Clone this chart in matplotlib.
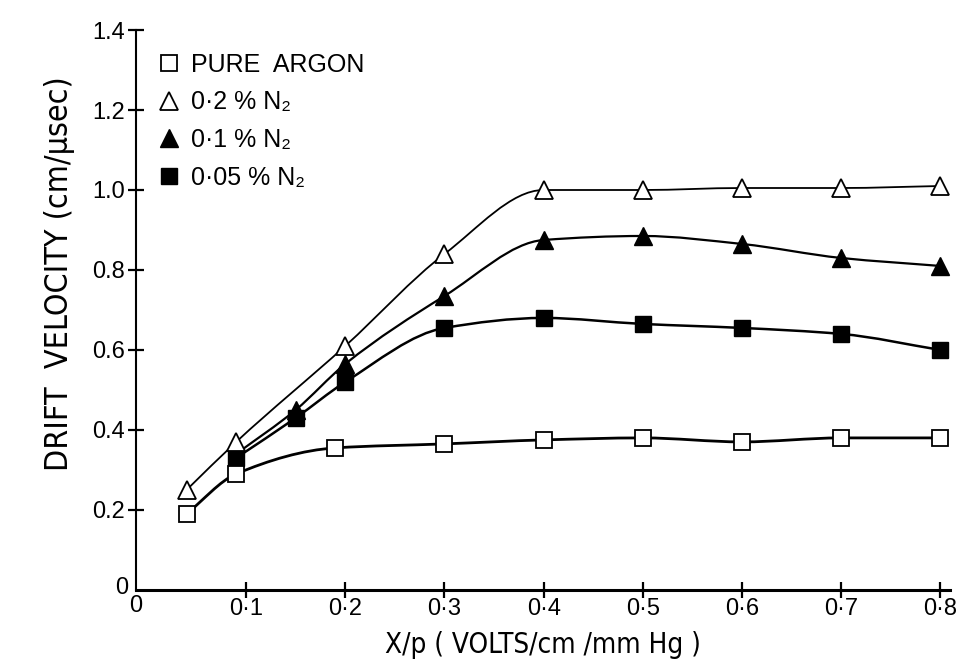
import numpy as np
import matplotlib
matplotlib.use("Agg")
import matplotlib.pyplot as plt
from matplotlib.path import Path
from matplotlib.patches import PathPatch

# ---- data ----
argon_x = [0.04, 0.09, 0.19, 0.30, 0.40, 0.50, 0.60, 0.70, 0.80]
argon_y = [0.19, 0.29, 0.355, 0.365, 0.375, 0.38, 0.37, 0.38, 0.38]

n2_02_x = [0.04, 0.09, 0.20, 0.30, 0.40, 0.50, 0.60, 0.70, 0.80]
n2_02_y = [0.25, 0.37, 0.61, 0.84, 1.00, 1.00, 1.005, 1.005, 1.01]

n2_01_x = [0.15, 0.20, 0.30, 0.40, 0.50, 0.60, 0.70, 0.80]
n2_01_y = [0.45, 0.565, 0.735, 0.875, 0.885, 0.865, 0.83, 0.81]
n2_01_line_start = (0.09, 0.34)

n2_005_x = [0.09, 0.15, 0.20, 0.30, 0.40, 0.50, 0.60, 0.70, 0.80]
n2_005_y = [0.33, 0.43, 0.52, 0.655, 0.68, 0.665, 0.655, 0.64, 0.60]

x_ticks = [0.1, 0.2, 0.3, 0.4, 0.5, 0.6, 0.7, 0.8]
x_ticklabels = ["0·1", "0·2", "0·3", "0·4", "0·5", "0·6", "0·7", "0·8"]
y_ticks = [0.2, 0.4, 0.6, 0.8, 1.0, 1.2, 1.4]
y_ticklabels = ["0.2", "0.4", "0.6", "0.8", "1.0", "1.2", "1.4"]

labels = ["PURE  ARGON", "0·2 % N₂", "0·1 % N₂", "0·05 % N₂"]

FAM = ["Liberation Sans", "DejaVu Sans"]
NARROW = ["DejaVu Sans", "Liberation Sans"]


def smooth_patch(xs, ys, lw):
    """Monotone cubic (Fritsch-Carlson) Bezier path through the data points."""
    x = np.asarray(xs, float)
    y = np.asarray(ys, float)
    n = len(x)
    h = np.diff(x)
    d = np.diff(y) / h
    m = np.zeros(n)
    m[0] = d[0]
    m[-1] = d[-1]
    for i in range(1, n - 1):
        if d[i - 1] * d[i] <= 0:
            m[i] = 0.0
        else:
            w1 = 2 * h[i] + h[i - 1]
            w2 = h[i] + 2 * h[i - 1]
            m[i] = (w1 + w2) / (w1 / d[i - 1] + w2 / d[i])
    verts = [(x[0], y[0])]
    codes = [Path.MOVETO]
    for i in range(n - 1):
        c1 = (x[i] + h[i] / 3, y[i] + m[i] * h[i] / 3)
        c2 = (x[i + 1] - h[i] / 3, y[i + 1] - m[i + 1] * h[i] / 3)
        verts += [c1, c2, (x[i + 1], y[i + 1])]
        codes += [Path.CURVE4] * 3
    return PathPatch(Path(verts, codes), fill=False, lw=lw, color="black",
                     capstyle="round", joinstyle="round", zorder=2)


fig = plt.figure(figsize=(9.58, 6.68), dpi=100)
ax = fig.add_axes([0.142, 0.117, 0.85, 0.838])
ax.set_xlim(-0.011, 0.81)
ax.set_ylim(0, 1.4)

ax.add_patch(smooth_patch(argon_x, argon_y, 2.0))
ax.add_patch(smooth_patch(n2_02_x, n2_02_y, 1.3))
ax.add_patch(smooth_patch([n2_01_line_start[0]] + n2_01_x,
                          [n2_01_line_start[1]] + n2_01_y, 1.6))
ax.add_patch(smooth_patch(n2_005_x, n2_005_y, 1.8))

ms_sq = 12
ms_tri = 13
h1, = ax.plot(argon_x, argon_y, ls="none", marker="s", ms=ms_sq,
              mfc="white", mec="black", mew=1.3, zorder=4)
h2, = ax.plot(n2_02_x, n2_02_y, ls="none", marker="^", ms=ms_tri,
              mfc="white", mec="black", mew=1.3, zorder=4)
h3, = ax.plot(n2_01_x, n2_01_y, ls="none", marker="^", ms=ms_tri,
              mfc="black", mec="black", mew=1.0, zorder=4)
h4, = ax.plot(n2_005_x, n2_005_y, ls="none", marker="s", ms=ms_sq,
              mfc="black", mec="black", mew=1.0, zorder=3)

for s in ["top", "right"]:
    ax.spines[s].set_visible(False)
ax.spines["left"].set_linewidth(1.5)
ax.spines["bottom"].set_linewidth(2.2)

ax.set_xticks(x_ticks)
ax.set_xticklabels(x_ticklabels, fontfamily=FAM, fontsize=17)
ax.set_yticks(y_ticks)
ax.set_yticklabels(y_ticklabels, fontfamily=FAM, fontsize=17)
ax.tick_params(axis="both", direction="inout", length=12, width=1.6,
               colors="black", pad=2)
ax.tick_params(axis="x", pad=0)

# origin labels
ax.text(-0.011, -0.012, "0", transform=ax.transData, ha="center", va="top",
        fontsize=17, fontfamily=FAM)
ax.text(-0.019, 0.005, "0", transform=ax.transData, ha="right", va="center",
        fontsize=17, fontfamily=FAM)

ax.set_xlabel("X/p ( VOLTS/cm /mm Hg )", fontfamily=NARROW, fontsize=20,
              fontstretch="condensed", labelpad=8)
ax.set_ylabel("DRIFT  VELOCITY (cm/μsec)", fontfamily=NARROW, fontsize=23,
              fontstretch="condensed")
ax.yaxis.set_label_coords(-0.075, 0.565)

leg = ax.legend([h1, h2, h3, h4], labels, loc="upper left",
                bbox_to_anchor=(0.0, 1.0), frameon=False,
                prop={"family": FAM, "size": 18}, handlelength=0.8,
                handletextpad=0.5, labelspacing=0.55, markerscale=0.95,
                borderaxespad=0.5)

fig.savefig("out.png", dpi=100, facecolor="white")
